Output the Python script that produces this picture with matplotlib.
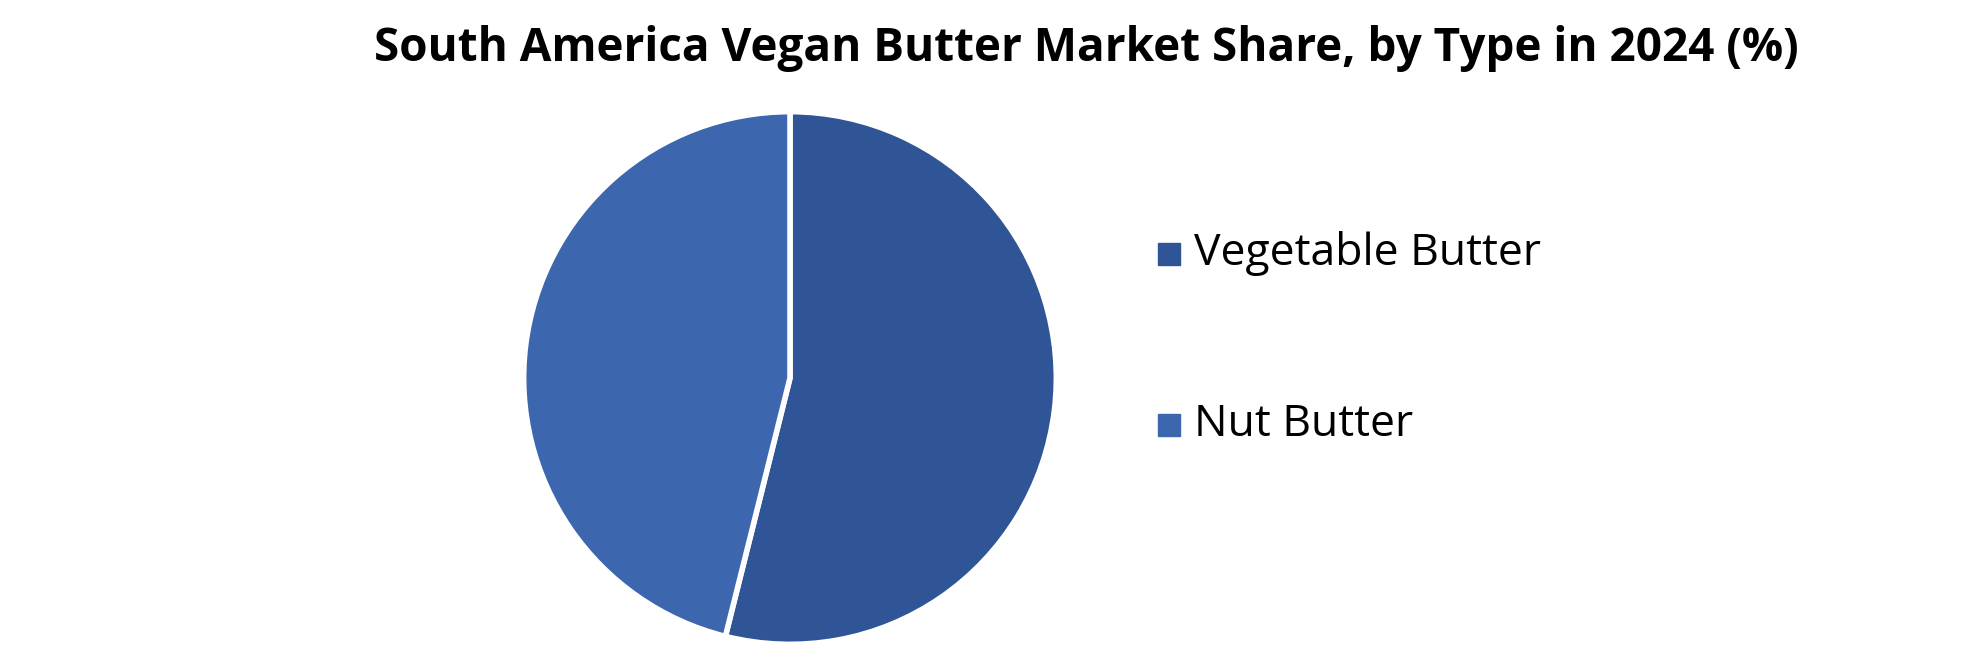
import matplotlib.pyplot as plt
from matplotlib.patches import Rectangle

plt.rcParams['font.family'] = ['Open Sans', 'DejaVu Sans']

# market share by type (%)
types = ['Vegetable Butter', 'Nut Butter']
share = [53.9, 46.1]
colors = ['#2F5597', '#3C66AE']

W, H = 1980, 646
fig = plt.figure(figsize=(W/100, H/100), dpi=100)

# pie centre / radius in pixels
cx, cy, r = 790, 378, 269
ax = fig.add_axes([(cx-r)/W, (H-cy-r)/H, 2*r/W, 2*r/H])
ax.pie(share, colors=colors, startangle=90, counterclock=False,
       wedgeprops=dict(edgecolor='white', linewidth=4))
ax.set_xlim(-1.01, 1.01)
ax.set_ylim(-1.01, 1.01)
ax.set_aspect('equal')

fig.text(1086/W, 1 - 48/H, 'South America Vegan Butter Market Share, by Type in 2024 (%)',
         ha='center', va='center', fontsize=33, fontweight='bold')

# legend
ys = [254, 425]
for lab, col, y in zip(types, colors, ys):
    fig.patches.append(Rectangle((1158/W, 1 - (y+11)/H), 22/W, 22/H,
                                 transform=fig.transFigure, color=col))
    fig.text(1194/W, 1 - y/H, lab, ha='left', va='center', fontsize=32)

fig.savefig('out.png', dpi=100)
